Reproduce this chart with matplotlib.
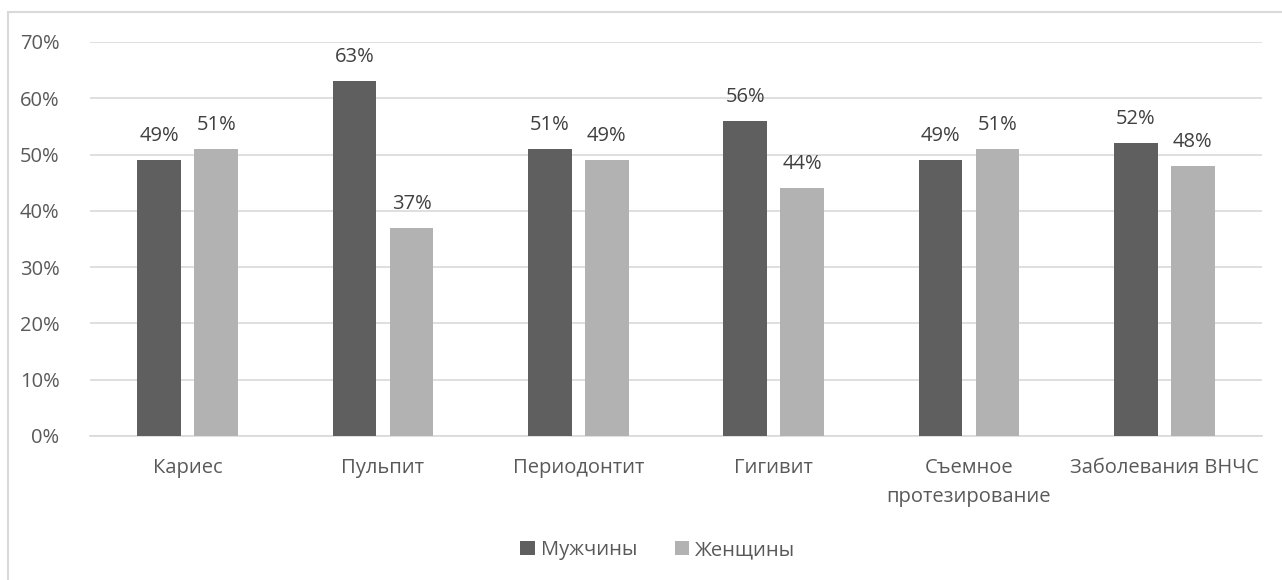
from matplotlib import pyplot as plt
from matplotlib.patches import Rectangle
import numpy as np

categories = ['Кариес', 'Пульпит', 'Периодонтит', 'Гигивит', 'Съемное\nпротезирование', 'Заболевания ВНЧС']
men = [0.49, 0.63, 0.51, 0.56, 0.49, 0.52]
women = [0.51, 0.37, 0.49, 0.44, 0.51, 0.48]
y_ticks = [0, 0.1, 0.2, 0.3, 0.4, 0.5, 0.6, 0.7]

TEXT = '#595959'
FS = 14.5
plt.rcParams['font.family'] = ['Open Sans', 'DejaVu Sans']

fig = plt.figure(figsize=(12.82, 5.8), dpi=100)
ax = fig.add_axes([0.0702, 0.2483, 0.9142, 0.6793])

x = np.arange(len(categories))
w = 0.225
off = 0.146
b1 = ax.bar(x - off, men, w, color='#5f5f5f', label='Мужчины', zorder=3)
b2 = ax.bar(x + off, women, w, color='#b2b2b2', label='Женщины', zorder=3)

for bars, vals in ((b1, men), (b2, women)):
    for rect, v in zip(bars, vals):
        ax.text(rect.get_x() + rect.get_width() / 2, v + 0.025, f'{round(v * 100)}%',
                ha='center', va='bottom', fontsize=FS, color='#404040')

ax.set_xlim(-0.5, len(categories) - 0.5)
ax.set_ylim(0, 0.7)
ax.set_yticks(y_ticks)
ax.set_yticklabels([f'{round(t * 100)}%' for t in y_ticks])
ax.set_xticks(x)
ax.set_xticklabels(categories, linespacing=1.6)
ax.tick_params(axis='both', length=0, labelsize=FS, colors=TEXT)
ax.tick_params(axis='x', pad=16)
ax.tick_params(axis='y', pad=22)
ax.grid(axis='y', color='#d9d9d9', linewidth=1.2, zorder=0)
for side in ('top', 'right', 'left'):
    ax.spines[side].set_visible(False)
ax.spines['bottom'].set_color('#d9d9d9')
ax.spines['bottom'].set_linewidth(1.2)

fig.legend(handles=[b1, b2], loc='center', bbox_to_anchor=(658 / 1282, 1 - 550 / 580), ncol=2,
           frameon=False, fontsize=FS, labelcolor=TEXT, handlelength=0.7, handleheight=0.7,
           handletextpad=0.3, columnspacing=1.9)

fig.patches.append(Rectangle((8 / 1282, -0.1), 1.2, 1 - 12 / 580 + 0.1, transform=fig.transFigure,
                             fill=False, edgecolor='#d9d9d9', linewidth=1.5))

fig.savefig('out.png', dpi=100)
